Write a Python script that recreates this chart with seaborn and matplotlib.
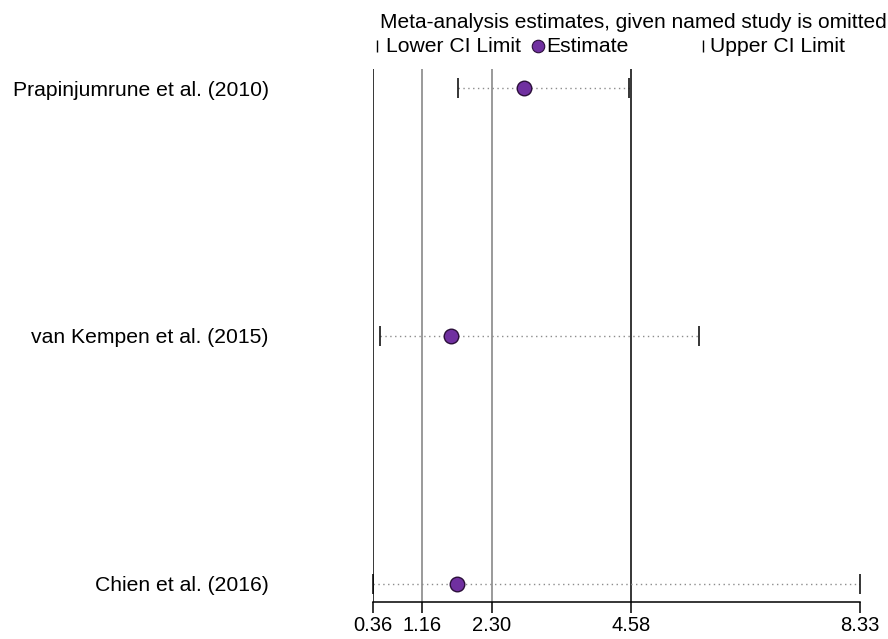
import numpy as np
import pandas as pd
import matplotlib
matplotlib.use("Agg")
import matplotlib.pyplot as plt
from matplotlib.lines import Line2D
import seaborn as sns

# study omitted -> pooled estimate and CI of the remaining studies
studies = ["Prapinjumrune et al. (2010)", "van Kempen et al. (2015)", "Chien et al. (2016)"]
estimate = [2.83, 1.64, 1.73]
lower_ci = [1.75, 0.47, 0.36]
upper_ci = [4.55, 5.70, 8.33]

# reference lines and axis ticks
ref_lines = [0.36, 1.16, 2.30, 4.58]
ref_colors = ["black", "#7f7f7f", "#7f7f7f", "black"]
xticks = [0.36, 1.16, 2.30, 4.58, 8.33]

df = pd.DataFrame({"study": studies, "est": estimate, "lo": lower_ci, "hi": upper_ci})
df["pos"] = np.arange(len(df))

sns.set_style("white")
plt.rcParams["font.family"] = ["Liberation Sans", "DejaVu Sans"]
plt.rcParams["text.color"] = "black"
plt.rcParams["xtick.color"] = "black"
plt.rcParams["ytick.color"] = "black"

fig = plt.figure(figsize=(8.88, 6.39), dpi=100)
ax = fig.add_axes([373 / 888, 37 / 639, 487 / 888, 533 / 639])

for v, c in zip(ref_lines, ref_colors):
    ax.axvline(v, color=c, lw=1.1, zorder=1)

# dotted CI lines and end ticks
ax.hlines(df["pos"], df["lo"], df["hi"], colors="#8c8c8c", linestyles=(0, (1, 2.5)), lw=1, zorder=2)
ax.plot(df["lo"], df["pos"], ls="none", marker="|", ms=14, mew=1.1, color="black", zorder=3, clip_on=False)
ax.plot(df["hi"], df["pos"], ls="none", marker="|", ms=14, mew=1.1, color="black", zorder=3, clip_on=False)

sns.scatterplot(data=df, x="est", y="pos", ax=ax, s=110, color="#7030a0",
                edgecolor="#2b0f3a", linewidth=1, zorder=4, clip_on=False, legend=False)

ax.set_xlim(min(xticks), max(xticks))
ax.set_ylim(2.073, -0.077)
ax.set_xticks(xticks)
ax.set_xticklabels([f"{t:.2f}" for t in xticks], fontsize=14.5)
ax.set_yticks(df["pos"])
ax.set_yticklabels(studies, fontsize=15.2)
ax.tick_params(axis="x", direction="out", length=8, width=1.1, color="black", pad=2, bottom=True)
ax.tick_params(axis="y", length=0, pad=75)
ax.set_xlabel("")
ax.set_ylabel("")
for s in ["top", "right", "left"]:
    ax.spines[s].set_visible(False)
ax.spines["bottom"].set_color("black")
ax.spines["bottom"].set_linewidth(1.1)

# legend block on top
def fx(px):
    return px / 888

def fy(py):
    return 1 - py / 639

fig.text(fx(380), fy(22), "Meta-analysis estimates, given named study is omitted",
         fontsize=15.0, va="center", ha="left")
fig.add_artist(Line2D([fx(377)], [fy(46)], marker="|", ms=9, mew=1, color="black",
                      transform=fig.transFigure))
fig.text(fx(386), fy(47), "Lower CI Limit", fontsize=15.2, va="center", ha="left")
fig.add_artist(Line2D([fx(538)], [fy(46)], marker="o", ms=9, color="#7030a0", mec="#2b0f3a",
                      mew=0.8, transform=fig.transFigure))
fig.text(fx(546), fy(47), "Estimate", fontsize=15.2, va="center", ha="left")
fig.add_artist(Line2D([fx(703)], [fy(46)], marker="|", ms=9, mew=1, color="black",
                      transform=fig.transFigure))
fig.text(fx(710), fy(47), "Upper CI Limit", fontsize=15.2, va="center", ha="left")

fig.savefig("out.png", dpi=100)
